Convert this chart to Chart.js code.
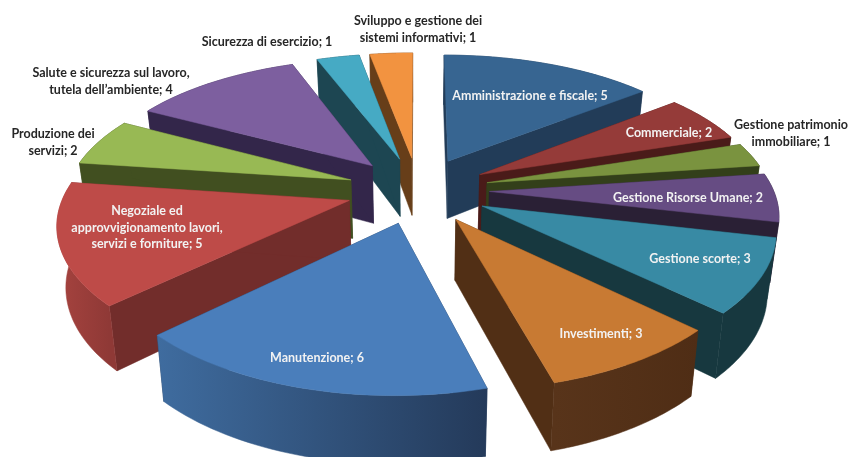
<!DOCTYPE html>
<html>
<head>
<meta charset="utf-8">
<title>Pie</title>
<style>
  html, body { margin: 0; padding: 0; background: #fff; }
  canvas { display: block; filter: blur(0.6px); }
</style>
<script src="https://cdn.jsdelivr.net/npm/chart.js@4/dist/chart.umd.min.js"></script>
</head>
<body>
<canvas id="chart" width="849" height="457"></canvas>
<script>
const categories = [
  'Amministrazione e fiscale', 'Commerciale', 'Gestione patrimonio immobiliare',
  'Gestione Risorse Umane', 'Gestione scorte', 'Investimenti', 'Manutenzione',
  'Negoziale ed approvvigionamento lavori, servizi e forniture', 'Produzione dei servizi',
  'Salute e sicurezza sul lavoro, tutela dell\u2019ambiente', 'Sicurezza di esercizio',
  'Sviluppo e gestione dei sistemi informativi'
];
const values = [5, 2, 1, 2, 3, 3, 6, 5, 2, 4, 1, 1];
const topColors = ['#376591', '#953b39', '#7a933f', '#664c83', '#388aa4', '#c87a33',
  '#4a7ebb', '#be4b48', '#98b954', '#7d5f9f', '#46aac4', '#f29340'];
const cutColors = ['#223c58', '#4a1b19', '#333f1a', '#2a2035', '#17383f', '#512f15',
  '#243a5a', '#722d2b', '#414f20', '#33264a', '#1d4652', '#673e19'];
// left and right end of the gradient on the curved outer wall
const wallLeft = ['#223c58', '#4a1b19', '#333f1a', '#2a2035', '#17383f', '#58341a',
  '#3f6c9f', '#a6433f', '#414f20', '#33264a', '#1d4652', '#673e19'];
const wallRight = ['#223c58', '#4a1b19', '#333f1a', '#2a2035', '#17383f', '#4f2d15',
  '#243a5a', '#8f3936', '#414f20', '#33264a', '#1d4652', '#673e19'];

// label lines, one entry per slice
const labelLines = [
  ['Amministrazione e fiscale; 5'], ['Commerciale; 2'], ['Gestione patrimonio', 'immobiliare; 1'],
  ['Gestione Risorse Umane; 2'], ['Gestione scorte; 3'], ['Investimenti; 3'], ['Manutenzione; 6'],
  ['Negoziale ed', 'approvvigionamento lavori,', 'servizi e forniture; 5'], ['Produzione dei', 'servizi; 2'],
  ['Salute e sicurezza sul lavoro,', 'tutela dell\u2019ambiente; 4'], ['Sicurezza di esercizio; 1'],
  ['Sviluppo e gestione dei', 'sistemi informativi; 1']
];
const labelX = [530, 669, 791, 688, 700, 601, 317, 147, 53, 111, 267, 418];
const labelY = [96, 133, 125, 198, 259, 334, 358, 211, 134, 73, 42, 21];
const labelColors = ['#f2f2f2', '#f2f2f2', '#262626', '#f2f2f2', '#f2f2f2', '#f2f2f2', '#f2f2f2',
  '#f2f2f2', '#262626', '#262626', '#262626', '#262626'];

// perspective of the pie plane, fitted to the picture
const CX = 418, CY = 190, WIDE = 284, DEEP = 132, PERSP_X = 0.15, PERSP_Y = 0.163, DEPTH = 59;

function project(a, b, drop) {
  const x = WIDE * a / (1 - PERSP_X * b);
  const y = DEEP * b / (1 - PERSP_Y * b);
  // the lower face sits a bit further from the eye
  return drop
    ? { x: CX + x * 0.975, y: CY + y + DEPTH * (1 + 0.13 * b) }
    : { x: CX + x, y: CY + y };
}

function fillPath(ctx, pts, color) {
  ctx.beginPath();
  pts.forEach((p, i) => i ? ctx.lineTo(p.x, p.y) : ctx.moveTo(p.x, p.y));
  ctx.closePath();
  ctx.fillStyle = color;
  ctx.strokeStyle = color;
  ctx.lineWidth = 0.5;
  ctx.fill();
  ctx.stroke();
}

const pie3d = {
  id: 'pie3d',
  beforeDatasetsDraw(chart) {
    const ctx = chart.ctx;
    const arcs = chart.getDatasetMeta(0).data;
    const order = arcs.map((arc, i) => i).sort((i, j) => {
      const mi = (arcs[i].startAngle + arcs[i].endAngle) / 2;
      const mj = (arcs[j].startAngle + arcs[j].endAngle) / 2;
      return Math.sin(mi) - Math.sin(mj);
    });

    order.forEach(i => {
      const arc = arcs[i];
      const mid = (arc.startAngle + arc.endAngle) / 2;
      const e = arc.options.offset / arc.outerRadius;
      const ax = e * Math.cos(mid), ay = e * Math.sin(mid);
      const rim = [];
      for (let k = 0; k <= 40; k++) {
        const t = arc.startAngle + (arc.endAngle - arc.startAngle) * k / 40;
        rim.push([ax + Math.cos(t), ay + Math.sin(t)]);
      }
      const topRim = rim.map(p => project(p[0], p[1], false));
      const lowRim = rim.map(p => project(p[0], p[1], true));
      const apexTop = project(ax, ay, false), apexLow = project(ax, ay, true);

      fillPath(ctx, [apexTop, topRim[0], lowRim[0], apexLow], cutColors[i]);
      fillPath(ctx, [apexTop, topRim[40], lowRim[40], apexLow], cutColors[i]);

      const xs = topRim.map(p => p.x);
      const grad = ctx.createLinearGradient(Math.min(...xs), 0, Math.max(...xs), 0);
      grad.addColorStop(0, wallLeft[i]);
      grad.addColorStop(1, wallRight[i]);
      fillPath(ctx, topRim.concat(lowRim.slice().reverse()), grad);

      fillPath(ctx, [apexTop].concat(topRim), arc.options.backgroundColor);
    });

    ctx.font = 'bold 12.5px Lato';
    ctx.textAlign = 'center';
    ctx.textBaseline = 'middle';
    labelLines.forEach((lines, i) => {
      ctx.fillStyle = labelColors[i];
      lines.forEach((line, n) => ctx.fillText(line, labelX[i], labelY[i] + n * 16.5));
    });
    return false;
  }
};

new Chart(document.getElementById('chart'), {
  type: 'pie',
  data: {
    labels: categories,
    datasets: [{ data: values, backgroundColor: topColors, borderWidth: 0, offset: 51 }]
  },
  options: {
    responsive: false,
    animation: false,
    plugins: { legend: { display: false }, tooltip: { enabled: false } }
  },
  plugins: [pie3d]
});
</script>
</body>
</html>
